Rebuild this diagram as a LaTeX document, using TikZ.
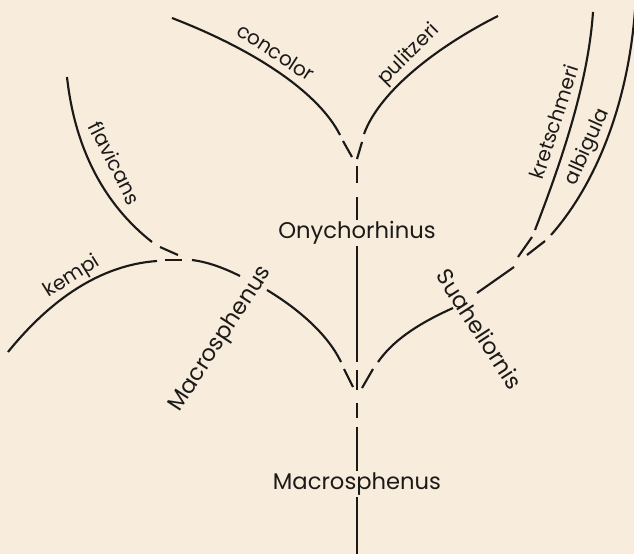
\documentclass[tikz,border=0pt]{standalone}
\usepackage{fontspec}
\setmainfont{Poppins}
\usepackage{tikz}

\definecolor{paper}{RGB}{248,237,221}
\definecolor{ink}{RGB}{28,26,24}

\begin{document}
\begin{tikzpicture}[
x=0.75pt, y=-0.75pt,
branch/.style={
draw=ink,
line width=1.6pt
},
genuslabel/.style={
text=ink,
inner sep=1pt,
font=\fontsize{17}{19}\selectfont
},
specieslabel/.style={
text=ink,
inner sep=1pt,
font=\fontsize{15}{17}\selectfont
}
]

\fill[paper] (0,0) rectangle (634,554);
\useasboundingbox (0,0) rectangle (634,554);

% Points of the tree
\coordinate (root) at (357,554);
\coordinate (trunk-a) at (357,427);
\coordinate (trunk-b) at (357,418);
\coordinate (trunk-c) at (357,403);
\coordinate (lowfork) at (357,390);
\coordinate (lowfork-m) at (357,370);
\coordinate (trunk-e) at (357,362);
\coordinate (trunk-f) at (357,197);
\coordinate (trunk-g) at (357,183);
\coordinate (trunk-h) at (357,166);

\coordinate (concolor-tip) at (172,18);
\coordinate (concolor-end) at (340,135);
\coordinate (concolor-dash) at (343,141);
\coordinate (topfork-l) at (352,157);
\coordinate (pulitzeri-tip) at (498,16);
\coordinate (pulitzeri-end) at (364,134);
\coordinate (pulitzeri-dash) at (362,142);
\coordinate (topfork-r) at (357,159);

\coordinate (macro-end) at (341,362);
\coordinate (macro-dash) at (344,369);
\coordinate (lowfork-l) at (353,387);
\coordinate (macro-gap) at (267,290);
\coordinate (macro-gap2) at (240,276);
\coordinate (macro-split) at (192,260);
\coordinate (kempi-tip) at (8,352);
\coordinate (kempi-end) at (157,261);
\coordinate (kempi-dash) at (165,260);
\coordinate (split-m) at (182,260);
\coordinate (flav-tip) at (67,77);
\coordinate (flav-end) at (152,242);
\coordinate (flav-dash) at (160,247);
\coordinate (split-f) at (178,255);

\coordinate (suah-end) at (378,362);
\coordinate (suah-dash) at (373,369);
\coordinate (lowfork-r) at (362,388);
\coordinate (suah-gap) at (453,308);
\coordinate (suah-gap2) at (477,293);
\coordinate (suah-split) at (514,267);
\coordinate (kret-dash2) at (518,257);
\coordinate (kret-dash) at (532,237);
\coordinate (kret-end) at (535,230);
\coordinate (kret-tip) at (593,12);
\coordinate (albi-dash2) at (527,255);
\coordinate (albi-dash) at (545,241);
\coordinate (albi-end) at (551,235);
\coordinate (albi-tip) at (635,10);

% Genus labels
\node[genuslabel] (onych) at (357,233) {Onychorhinus};
\node[genuslabel] (macro) at (357,484) {Macrosphenus};
\node[genuslabel, rotate=57] (macrobranch) at (221,339) {Macrosphenus};
\node[genuslabel, rotate=-57] (suah) at (480,329) {Suaheliornis};

% Species labels
\node[specieslabel, rotate=-33] (concolor) at (276,52) {concolor};
\node[specieslabel, rotate=45] (pulitzeri) at (409,55) {pulitzeri};
\node[specieslabel, rotate=-63] (flavicans) at (115,163) {flavicans};
\node[specieslabel, rotate=32] (kempi) at (72,277) {kempi};
\node[specieslabel, rotate=72] (kretschmeri) at (554,122) {kretschmeri};
\node[specieslabel, rotate=66] (albigula) at (588,147) {albigula};

% Main stem
\draw[branch] (root) -- (macro.south);
\draw[branch] (macro.north) -- (trunk-a);
\draw[branch] (trunk-b) -- (trunk-c);
\draw[branch] (lowfork) -- (lowfork-m);
\draw[branch] (trunk-e) -- (onych.south);
\draw[branch] (onych.north) -- (trunk-f);
\draw[branch] (trunk-g) -- (trunk-h);

% Upper fork
\draw[branch] (concolor-tip) .. controls (260,52) and (320,95) .. (concolor-end);
\draw[branch] (concolor-dash) -- (topfork-l);
\draw[branch] (pulitzeri-tip) .. controls (440,45) and (380,90) .. (pulitzeri-end);
\draw[branch] (pulitzeri-dash) -- (topfork-r);

% Left branch
\draw[branch] (macro-dash) -- (lowfork-l);
\draw[branch] (macro-end) .. controls (328,335) and (300,310) .. (macro-gap);
\draw[branch] (macro-gap2) .. controls (224,268) and (208,262) .. (macro-split);
\draw[branch] (kempi-tip) .. controls (50,300) and (100,265) .. (kempi-end);
\draw[branch] (kempi-dash) -- (split-m);
\draw[branch] (flav-tip) .. controls (75,150) and (105,205) .. (flav-end);
\draw[branch] (flav-dash) -- (split-f);

% Right branch
\draw[branch] (suah-dash) -- (lowfork-r);
\draw[branch] (suah-end) .. controls (392,342) and (415,325) .. (suah-gap);
\draw[branch] (suah-gap2) -- (suah-split);
\draw[branch] (kret-dash2) -- (kret-dash);
\draw[branch] (kret-end) .. controls (560,165) and (588,85) .. (kret-tip);
\draw[branch] (albi-dash2) -- (albi-dash);
\draw[branch] (albi-end) .. controls (596,184) and (628,104) .. (albi-tip);

\end{tikzpicture}
\end{document}
